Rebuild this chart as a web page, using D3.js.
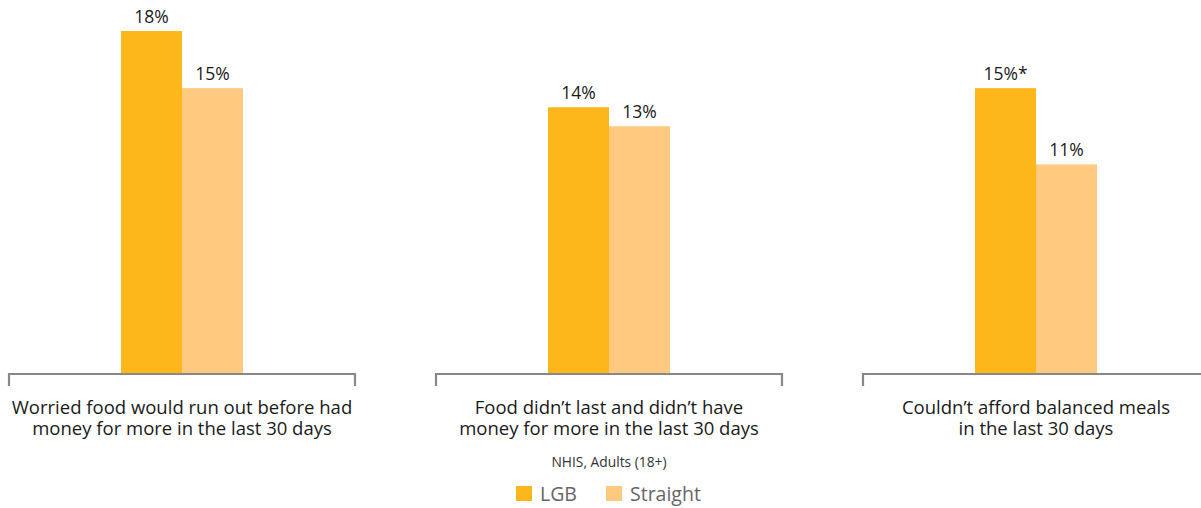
<!DOCTYPE html>
<html>
<head>
<meta charset="utf-8">
<script src="https://cdn.jsdelivr.net/npm/d3@7"></script>
<style>
  html, body { margin: 0; padding: 0; background: #fff; }
  svg { display: block; font-family: "Open Sans", sans-serif; }
</style>
</head>
<body>
<svg id="chart" width="1201" height="508"></svg>
<script>
const categories = [
  ["Worried food would run out before had", "money for more in the last 30 days"],
  ["Food didn\u2019t last and didn\u2019t have", "money for more in the last 30 days"],
  ["Couldn\u2019t afford balanced meals", "in the last 30 days"]
];
const seriesNames = ["LGB", "Straight"];
const lgbValues = [18, 14, 15];
const straightValues = [15, 13, 11];
const valueLabels = [["18%", "15%"], ["14%", "13%"], ["15%*", "11%"]];
const note = "NHIS, Adults (18+)";
const colors = ["#FDB71A", "#FFC97F"];

const svg = d3.select("#chart");
const baseline = 374;

const x0 = d3.scaleBand()
  .domain(d3.range(categories.length))
  .range([8, 1210])
  .paddingInner(79 / 427)
  .paddingOuter(0);

const barW = 61;
const x1 = d3.scaleBand()
  .domain(seriesNames)
  .range([x0.bandwidth() / 2 - barW, x0.bandwidth() / 2 + barW]);

const y = d3.scaleLinear().domain([0, 18]).range([baseline, 31]);

const data = categories.map((c, i) => ({
  i,
  label: c,
  vals: [
    { s: "LGB", v: lgbValues[i], t: valueLabels[i][0] },
    { s: "Straight", v: straightValues[i], t: valueLabels[i][1] }
  ]
}));

const groups = svg.selectAll("g.grp").data(data).join("g")
  .attr("class", "grp")
  .attr("transform", d => `translate(${x0(d.i)},0)`);

groups.selectAll("rect").data(d => d.vals).join("rect")
  .attr("x", d => x1(d.s))
  .attr("y", d => y(d.v))
  .attr("width", x1.bandwidth())
  .attr("height", d => y(0) - y(d.v))
  .attr("fill", (d, j) => colors[j]);

groups.selectAll("text.val").data(d => d.vals).join("text")
  .attr("class", "val")
  .attr("x", d => x1(d.s) + x1.bandwidth() / 2)
  .attr("y", d => y(d.v) - 8)
  .attr("text-anchor", "middle")
  .attr("font-size", 17.5)
  .attr("fill", "#1a1a1a")
  .text(d => d.t);

// bracket axis
groups.append("path")
  .attr("d", `M1,${baseline + 12}V${baseline}H${x0.bandwidth() - 1}V${baseline + 12}`)
  .attr("fill", "none")
  .attr("stroke", "#888")
  .attr("stroke-width", 2.2);

groups.each(function(d) {
  const t = d3.select(this).append("text")
    .attr("text-anchor", "middle")
    .attr("font-size", 18.5)
    .attr("fill", "#1a1a1a");
  d.label.forEach((line, k) => {
    t.append("tspan")
      .attr("x", x0.bandwidth() / 2)
      .attr("y", 414 + k * 21)
      .text(line);
  });
});

svg.append("text")
  .attr("x", 609)
  .attr("y", 467)
  .attr("text-anchor", "middle")
  .attr("font-size", 13.8)
  .attr("fill", "#333")
  .text(note);

const legendX = [516, 606];
const leg = svg.selectAll("g.leg").data(seriesNames).join("g")
  .attr("class", "leg")
  .attr("transform", (d, i) => `translate(${legendX[i]},486)`);
leg.append("rect").attr("width", 16).attr("height", 15).attr("fill", (d, i) => colors[i]);
leg.append("text")
  .attr("x", 24)
  .attr("y", 14.5)
  .attr("font-size", 19.5)
  .attr("fill", "#666")
  .text(d => d);
</script>
</body>
</html>
